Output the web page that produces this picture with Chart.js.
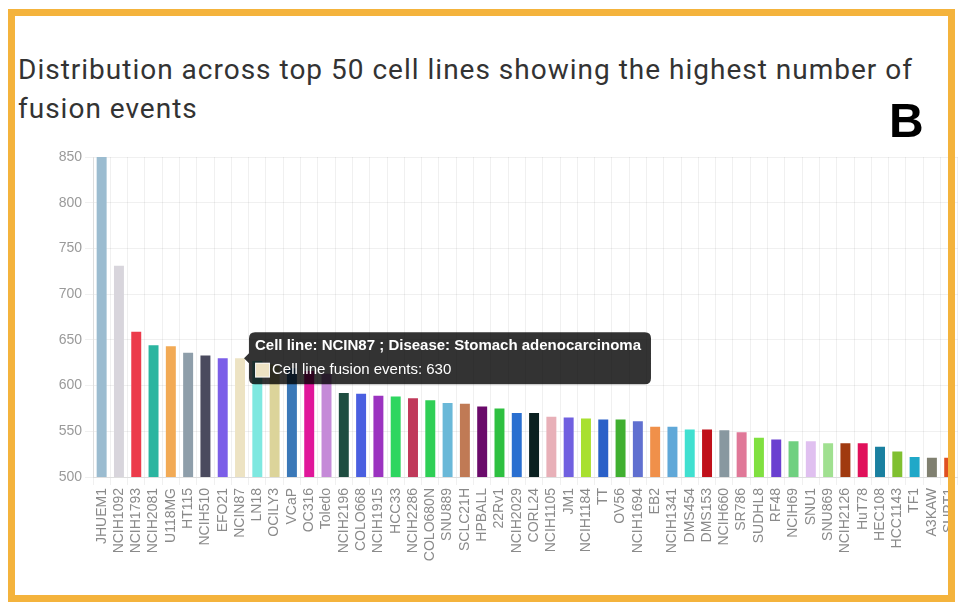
<!DOCTYPE html>
<html>
<head>
<meta charset="utf-8">
<script src="https://cdn.jsdelivr.net/npm/chart.js@4.4.0/dist/chart.umd.min.js"></script>
<style>
  html, body { margin: 0; padding: 0; background: #fff; }
  #page { position: relative; width: 958px; height: 602px; overflow: hidden; background: #fff; }
  #frame {
    position: absolute; left: 8px; top: 9px; right: 3px; bottom: 0;
    border: 7px solid #f4b33c; pointer-events: none; z-index: 3;
  }
  #title {
    position: absolute; left: 18px; top: 50px; width: 940px; white-space: nowrap;
    font-family: Roboto, "Noto Sans", sans-serif; font-size: 28px; line-height: 39px;
    letter-spacing: 1px; color: #333; z-index: 2;
  }
  #tag {
    position: absolute; left: 889px; top: 97px;
    font-family: "Liberation Sans", Arial, sans-serif; font-weight: bold;
    font-size: 48px; line-height: 48px; color: #000; z-index: 2;
  }
  #wrap { position: absolute; left: 0; top: 140px; width: 969px; height: 460px; z-index: 1; }
</style>
</head>
<body>
<div id="page">
  <div id="title">Distribution across top 50 cell lines showing the highest number of<br>fusion events</div>
  <div id="tag">B</div>
  <div id="wrap"><canvas id="chart"></canvas></div>
  <div id="frame"></div>
</div>
<script>
const cellLines = [
  "JHUEM1", "NCIH1092", "NCIH1793", "NCIH2081", "U118MG", "HT115", "NCIH510", "EFO21", "NCIN87", "LN18",
  "OCILY3", "VCaP", "OC316", "Toledo", "NCIH2196", "COLO668", "NCIH1915", "HCC33", "NCIH2286", "COLO680N",
  "SNU889", "SCLC21H", "HPBALL", "22Rv1", "NCIH2029", "CORL24", "NCIH1105", "JM1", "NCIH1184", "TT",
  "OV56", "NCIH1694", "EB2", "NCIH1341", "DMS454", "DMS153", "NCIH660", "SR786", "SUDHL8", "RF48",
  "NCIH69", "SNU1", "SNU869", "NCIH2126", "HuT78", "HEC108", "HCC1143", "TF1", "A3KAW", "SUPT1"
];

const fusionEvents = [
  850, 731, 659, 644, 643, 636, 633, 630, 630, 627,
  623, 619, 616, 613, 592, 591, 589, 588, 586, 584,
  581, 580, 577, 575, 570, 570, 566, 565, 564, 563,
  563, 561, 555, 555, 552, 552, 551, 549, 543, 541,
  539, 539, 537, 537, 537, 533, 528, 522, 521, 521
];

const barColors = [
  "#9bbcd0", "#d8d5dc", "#ec3b4b", "#2bb5a0", "#f2aa55", "#8e9eaa", "#4a4a5e", "#7b5ee8", "#ede3c3", "#7ee8e0",
  "#dcd49a", "#3a78b8", "#e0179a", "#c58ad8", "#1e4d40", "#4a5fe0", "#9b33c0", "#2ed660", "#c0395a", "#2fcf55",
  "#6ab8d8", "#c07a55", "#6a0a6a", "#2ec040", "#2a6fd0", "#0a2020", "#e8b0b8", "#7060e0", "#a8e030", "#2a60c8",
  "#40b030", "#6070d0", "#f0904a", "#60a8d8", "#40e0d0", "#c0101a", "#8898a0", "#e07898", "#80e040", "#6a40d0",
  "#70d080", "#e0c0f0", "#a0e090", "#a03a10", "#e0105a", "#1a80a0", "#80c030", "#20a8c8", "#808070", "#e05020"
];

const yTicks = [500, 550, 600, 650, 700, 750, 800, 850];

// only the hovered bar's disease is readable in the picture
const diseases = { NCIN87: "Stomach adenocarcinoma" };
const hoveredIndex = cellLines.indexOf("NCIN87");

const chart = new Chart(document.getElementById("chart"), {
  type: "bar",
  data: {
    labels: cellLines,
    datasets: [{
      label: "Cell line fusion events",
      data: fusionEvents,
      backgroundColor: barColors,
      hoverBackgroundColor: barColors,
      borderWidth: 0,
      categoryPercentage: 0.8,
      barPercentage: 0.72
    }]
  },
  options: {
    responsive: true,
    maintainAspectRatio: false,
    animation: false,
    layout: { padding: { top: 17, left: 0, right: 0, bottom: 0 } },
    plugins: {
      legend: { display: false },
      tooltip: {
        backgroundColor: "rgba(0,0,0,0.8)",
        titleFont: { size: 15, weight: "bold" },
        bodyFont: { size: 15 },
        padding: { top: 5, bottom: 5, left: 6, right: 10 },
        caretPadding: 4,
        cornerRadius: 6,
        callbacks: {
          title: items => "Cell line: " + items[0].label + " ; Disease: " + (diseases[items[0].label] || ""),
          label: item => "Cell line fusion events: " + item.raw
        }
      }
    },
    scales: {
      x: {
        grid: { color: "rgba(0,0,0,0.06)" },
        border: { color: "rgba(0,0,0,0.08)" },
        ticks: {
          color: "#8a8a8a",
          font: { size: 14 },
          autoSkip: false,
          minRotation: 90,
          maxRotation: 90
        },
        afterFit: scale => { scale.height = 123; }
      },
      y: {
        min: 500,
        max: 850,
        afterBuildTicks: scale => { scale.ticks = yTicks.map(v => ({ value: v })); },
        grid: { color: "rgba(0,0,0,0.06)" },
        border: { color: "rgba(0,0,0,0.08)" },
        ticks: { color: "#9a9a9a", font: { size: 14 } },
        afterFit: scale => { scale.width = 93; }
      }
    }
  }
});

chart.tooltip.setActiveElements([{ datasetIndex: 0, index: hoveredIndex }], { x: 0, y: 0 });
chart.update();
</script>
</body>
</html>
